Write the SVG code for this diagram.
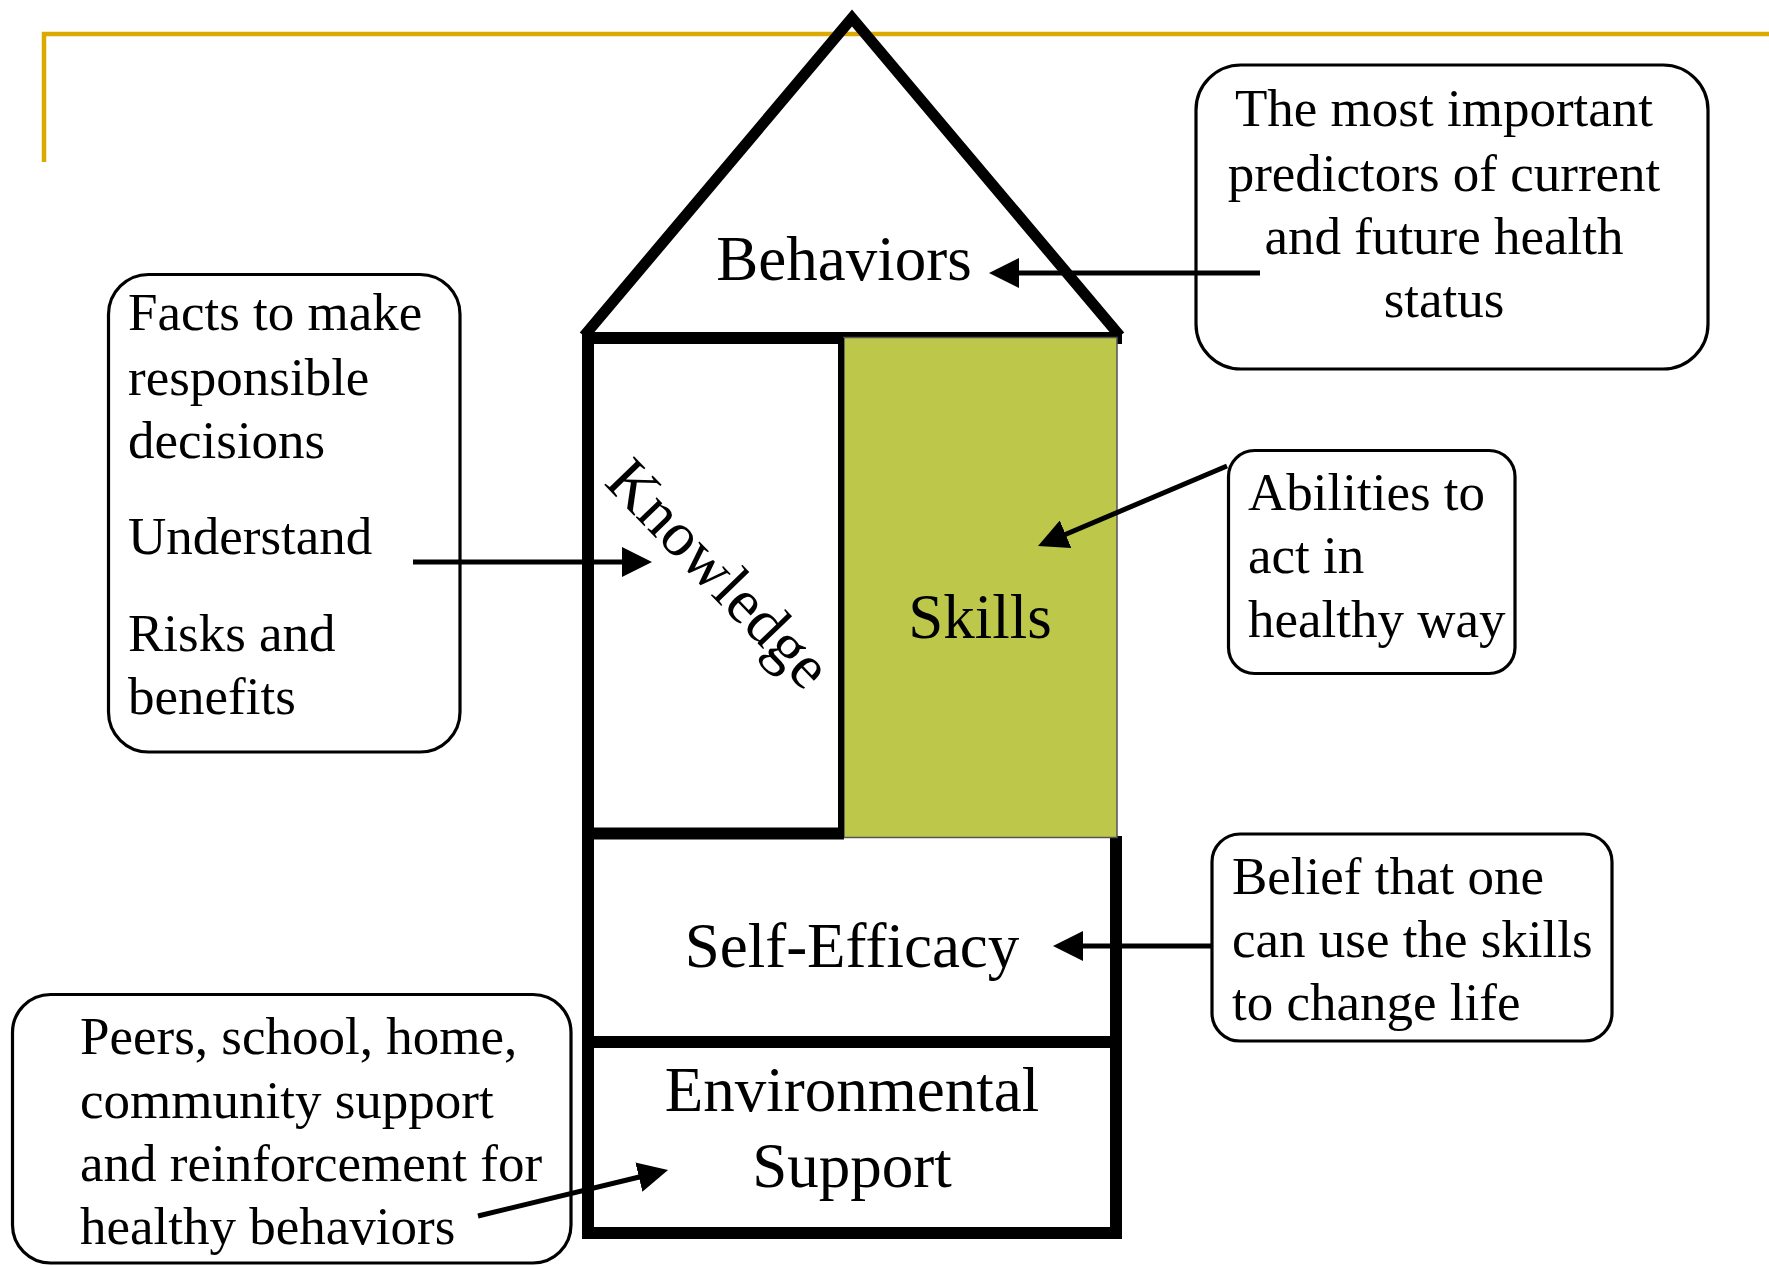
<svg xmlns="http://www.w3.org/2000/svg" width="1769" height="1266" viewBox="0 0 1769 1266">
<style>
.bg{fill:#ffffff}
.gold{stroke:#DAAA00;stroke-width:4.5;fill:none}
.wall{stroke:#000;stroke-width:12;fill:none;stroke-linecap:butt}
.roof{stroke:#000;stroke-width:11;fill:none;stroke-linejoin:miter}
.box{fill:#fff;stroke:#000;stroke-width:3.2}
.big{font-family:"Liberation Serif","Times New Roman",serif;font-size:63px;fill:#000}
.txt{font-family:"Liberation Serif","Times New Roman",serif;font-size:53px;fill:#000}
.conn{stroke:#000;stroke-width:5;fill:none}
</style>
<defs>
<marker id="ah" markerUnits="userSpaceOnUse" markerWidth="30" markerHeight="30" refX="10" refY="15" orient="auto" viewBox="0 0 30 30">
<path d="M0,0 L30,15 L0,30 z" fill="#000"/>
</marker>
</defs>
<rect class="bg" x="0" y="0" width="1769" height="1266"/>
<g id="frame">
<path class="gold" d="M44,162 L44,34 L1769,34"/>
</g>
<g id="house">
<polyline class="roof" points="584,336 852,18 1120,336"/>
<line class="wall" x1="582" y1="338" x2="1122" y2="338"/>
<line class="wall" x1="588" y1="332" x2="588" y2="1239"/>
<line class="wall" x1="1116" y1="836" x2="1116" y2="1239"/>
<line class="wall" x1="582" y1="833.5" x2="844" y2="833.5"/>
<line class="wall" x1="582" y1="1042" x2="1122" y2="1042"/>
<line class="wall" x1="582" y1="1233" x2="1122" y2="1233"/>
</g>
<g id="skills">
<rect x="844" y="337.5" width="273" height="500" fill="#BDC84A" stroke="#555" stroke-width="1.5"/>
<text class="big" x="980" y="638" text-anchor="middle">Skills</text>
</g>
<g id="knowledge">
<line x1="841" y1="338" x2="841" y2="838" stroke="#000" stroke-width="6"/>
<text class="big" x="704" y="588" text-anchor="middle" transform="rotate(46 704 588)">Knowledge</text>
</g>
<g id="behaviors">
<text class="big" x="844" y="280" text-anchor="middle">Behaviors</text>
</g>
<g id="self-efficacy">
<text class="big" x="852" y="967" text-anchor="middle">Self-Efficacy</text>
</g>
<g id="environmental-support">
<text class="big" x="852" y="1111" text-anchor="middle">Environmental</text>
<text class="big" x="852" y="1187" text-anchor="middle">Support</text>
</g>
<g id="note-predictors">
<rect class="box" x="1196" y="65" width="512" height="304" rx="45" ry="45"/>
<text class="txt" x="1444" y="126" text-anchor="middle">The most important</text>
<text class="txt" x="1444" y="191" text-anchor="middle">predictors of current</text>
<text class="txt" x="1444" y="254" text-anchor="middle">and future health</text>
<text class="txt" x="1444" y="317" text-anchor="middle">status</text>
</g>
<g id="note-facts">
<rect class="box" x="108.5" y="274.5" width="351.5" height="477.5" rx="40" ry="40"/>
<text class="txt" x="128" y="330">Facts to make</text>
<text class="txt" x="128" y="395">responsible</text>
<text class="txt" x="128" y="458">decisions</text>
<text class="txt" x="128" y="554">Understand</text>
<text class="txt" x="128" y="651">Risks and</text>
<text class="txt" x="128" y="714">benefits</text>
</g>
<g id="note-abilities">
<rect class="box" x="1228.5" y="450.5" width="286.5" height="223" rx="26" ry="26"/>
<text class="txt" x="1248" y="510">Abilities to</text>
<text class="txt" x="1248" y="573">act in</text>
<text class="txt" x="1248" y="637">healthy way</text>
</g>
<g id="note-belief">
<rect class="box" x="1212" y="834" width="400" height="207" rx="28" ry="28"/>
<text class="txt" x="1232" y="894">Belief that one</text>
<text class="txt" x="1232" y="957">can use the skills</text>
<text class="txt" x="1232" y="1020">to change life</text>
</g>
<g id="note-peers">
<rect class="box" x="12.5" y="994.5" width="558.5" height="268.5" rx="38" ry="38"/>
<text class="txt" x="80" y="1054">Peers, school, home,</text>
<text class="txt" x="80" y="1118">community support</text>
<text class="txt" x="80" y="1181">and reinforcement for</text>
<text class="txt" x="80" y="1244">healthy behaviors</text>
</g>
<g id="connectors">
<line class="conn" x1="1260" y1="273" x2="1009" y2="273" marker-end="url(#ah)"/>
<line class="conn" x1="413" y1="562" x2="632" y2="562" marker-end="url(#ah)"/>
<line class="conn" x1="1227" y1="466" x2="1056.4" y2="538.2" marker-end="url(#ah)"/>
<line class="conn" x1="1212" y1="946" x2="1073" y2="946" marker-end="url(#ah)"/>
<line class="conn" x1="478" y1="1216" x2="648.6" y2="1174.7" marker-end="url(#ah)"/>
</g>
</svg>
